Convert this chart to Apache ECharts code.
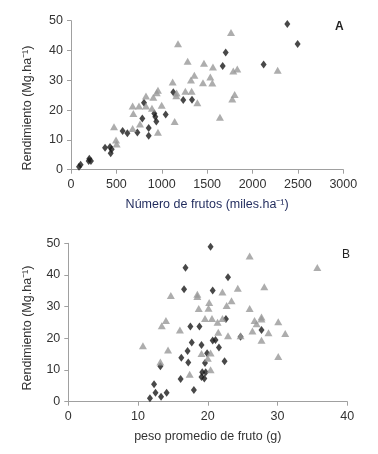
<!DOCTYPE html>
<html><head><meta charset="utf-8">
<script src="https://cdn.jsdelivr.net/npm/echarts@6/dist/echarts.min.js"></script>
<style>html,body{margin:0;padding:0;background:#fff}#c{width:378px;height:454px}</style>
</head><body><div id="c"></div>
<script>
// Panel A: Número de frutos (miles/ha) vs Rendimiento
const aDiamondX = [2383,2497,1704,1671,2122,1127,1237,1333,804,918,929,1043,940,786,856,856,569,621,731,375,430,448,437,88,106,202,220,195];
const aDiamondY = [48.9,42.2,39.3,34.8,35.3,26.0,23.4,23.5,22.5,18.9,17.8,18.5,16.2,17.2,14.0,11.4,13.0,12.2,12.5,7.4,7.6,6.9,5.5,1.0,1.7,3.7,2.9,2.9];
const aTriX = [1763,1179,1285,1465,1564,1788,1832,2277,1359,1322,1535,1454,1557,1120,1164,1160,1260,1329,1803,1777,1392,1641,1142,958,944,907,826,999,679,749,826,892,687,760,679,958,474,496,503];
const aTriY = [46.0,42.3,36.4,35.7,34.5,33.1,33.8,33.4,31.7,30.1,31.1,29.2,29.1,29.4,25.7,24.8,26.3,26.3,25.2,23.7,22.5,17.6,16.2,26.7,25.8,24.3,24.7,21.6,21.4,21.4,21.4,20.6,18.9,15.3,13.8,12.6,14.4,10.0,8.6];
// Panel B: peso promedio de fruto (g) vs Rendimiento
const bDiamondX = [20.4,16.8,22.9,16.6,20.7,22.6,17.5,18.8,27.7,20.7,21.1,17.7,19.1,21.6,17.1,16.2,17.2,19.9,19.6,13.2,22.4,19.2,19.7,19.1,19.5,16.1,18.0,12.3,12.5,13.3,14.1,11.7,24.7];
const bDiamondY = [48.9,42.3,39.3,35.5,35.1,26.1,23.7,23.7,22.6,19.3,19.5,18.7,17.9,17.1,16.0,13.9,12.4,15.3,12.2,11.2,12.8,9.3,9.3,7.8,7.3,7.2,3.7,5.5,2.8,1.6,2.8,1.1,20.5];
const bTriX = [26.0,35.7,28.1,24.3,22.1,14.7,18.5,18.5,20.2,23.4,22.7,20.1,18.7,26.0,19.6,20.6,22.1,21.4,27.7,27.7,26.7,27.0,30.1,14.0,13.4,16.0,21.5,22.9,24.7,26.4,28.7,31.1,27.7,10.7,14.3,19.1,20.4,20.0,30.1,13.2,17.4,20.4];
const bTriY = [46.0,42.4,36.3,35.8,34.6,33.5,33.9,33.2,31.3,31.9,30.4,29.5,29.4,29.4,26.3,26.3,26.3,25.1,26.7,26.1,25.6,24.6,25.2,25.6,24.0,22.6,21.9,20.8,20.8,22.3,21.8,21.5,19.4,17.7,16.3,15.2,15.4,13.7,14.3,12.5,8.7,10.1];
const yTicks = [0,10,20,30,40,50];
const aXTicks = [0,500,1000,1500,2000,2500,3000];
const bXTicks = [0,10,20,30,40];
const yTitle = 'Rendimiento (Mg.ha⁻¹)';

const zip = (xs, ys) => xs.map((x, i) => [x, ys[i]]);
const FONT = "'Liberation Sans Narrow', 'Liberation Sans', Arial, sans-serif";
const axisLine = {lineStyle: {color: '#a0a0a0', width: 1}};
const axisTick = {show: true, inside: false, length: 4, lineStyle: {color: '#a0a0a0'}};
const labelStyle = {color: '#333', fontFamily: FONT, fontSize: 12.5, formatter: v => String(v)};

const chart = echarts.init(document.getElementById('c'));
chart.setOption({
  animation: false,
  backgroundColor: '#fff',
  grid: [
    {left: 71, top: 20.7, width: 272.3, height: 149},
    {left: 68.3, top: 243.3, width: 279, height: 158.4}
  ],
  xAxis: [
    {gridIndex: 0, type: 'value', min: aXTicks[0], max: aXTicks[aXTicks.length-1], interval: 500,
     axisLine, axisTick, splitLine: {show: false}, axisLabel: {...labelStyle, margin: 8},
     name: 'Número de frutos (miles.ha⁻¹)', nameLocation: 'middle', nameGap: 28,
     nameTextStyle: {color: '#1f2a5c', fontFamily: FONT, fontSize: 12.5}},
    {gridIndex: 1, type: 'value', min: bXTicks[0], max: bXTicks[bXTicks.length-1], interval: 10,
     axisLine, axisTick, splitLine: {show: false}, axisLabel: {...labelStyle, margin: 8},
     name: 'peso promedio de fruto (g)', nameLocation: 'middle', nameGap: 28,
     nameTextStyle: {color: '#333', fontFamily: FONT, fontSize: 12.5}}
  ],
  yAxis: [0, 1].map(g => ({
    gridIndex: g, type: 'value', min: yTicks[0], max: yTicks[yTicks.length-1], interval: 10,
    axisLine: {show: true, lineStyle: {color: '#a0a0a0'}}, axisTick, splitLine: {show: false},
    axisLabel: {...labelStyle, margin: 8}
  })),
  graphic: [
    {type: 'text', x: 28, y: 108, rotation: Math.PI / 2,
     style: {text: yTitle, fontFamily: FONT, fontSize: 12.5, fill: '#333', align: 'center', verticalAlign: 'middle'}},
    {type: 'text', x: 28, y: 328, rotation: Math.PI / 2,
     style: {text: yTitle, fontFamily: FONT, fontSize: 12.5, fill: '#333', align: 'center', verticalAlign: 'middle'}},
    {type: 'text', left: 335, top: 21, style: {text: 'A', font: "bold 12px Arial, 'Liberation Sans', sans-serif", fill: '#222'}},
    {type: 'text', left: 342, top: 249, style: {text: 'B', font: "12px Arial, 'Liberation Sans', sans-serif", fill: '#222'}}
  ],
  series: [
    {type: 'scatter', xAxisIndex: 0, yAxisIndex: 0, data: zip(aDiamondX, aDiamondY), symbol: 'diamond', symbolSize: [6, 8], itemStyle: {color: '#1a1a1a'}},
    {type: 'scatter', xAxisIndex: 0, yAxisIndex: 0, data: zip(aTriX, aTriY), symbol: 'triangle', symbolSize: [8, 7], itemStyle: {color: '#999999'}},
    {type: 'scatter', xAxisIndex: 1, yAxisIndex: 1, data: zip(bDiamondX, bDiamondY), symbol: 'diamond', symbolSize: [6, 8], itemStyle: {color: '#1a1a1a'}},
    {type: 'scatter', xAxisIndex: 1, yAxisIndex: 1, data: zip(bTriX, bTriY), symbol: 'triangle', symbolSize: [8, 7], itemStyle: {color: '#999999'}}
  ]
});
</script></body></html>
